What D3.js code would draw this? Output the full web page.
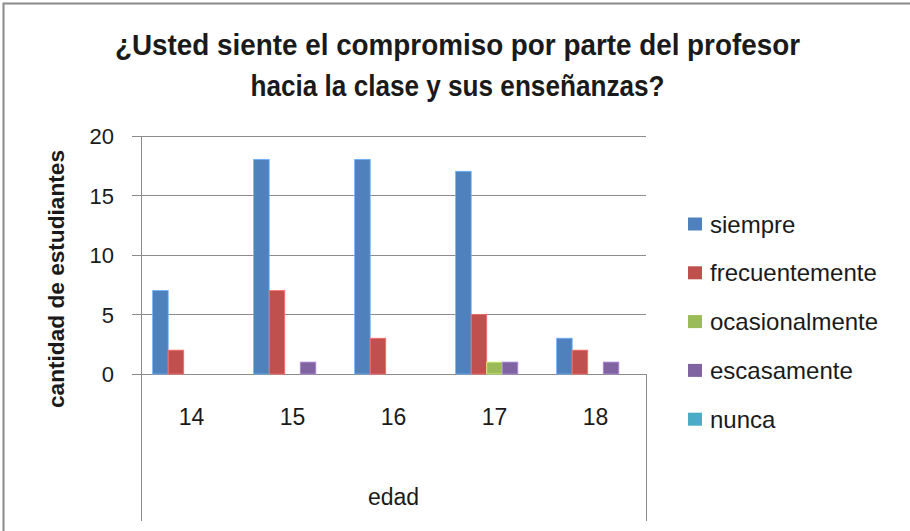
<!DOCTYPE html>
<html>
<head>
<meta charset="utf-8">
<script src="https://cdn.jsdelivr.net/npm/d3@7"></script>
<style>
  body { margin: 0; background: #fff; }
  text { font-family: "Liberation Sans", Arial, sans-serif; fill: #1a1a1a; }
</style>
</head>
<body>
<div id="wrapper"></div>
<script>
// data
const edades = ["14", "15", "16", "17", "18"]
const series = ["siempre", "frecuentemente", "ocasionalmente", "escasamente", "nunca"]
const colores = ["#4F81BD", "#C0504D", "#9BBB59", "#8064A2", "#4BACC6"]
const siempre = [7, 18, 18, 17, 3]
const frecuentemente = [2, 7, 3, 5, 2]
const ocasionalmente = [0, 0, 0, 1, 0]
const escasamente = [0, 1, 0, 1, 1]
const nunca = [0, 0, 0, 0, 0]
const yTicks = [0, 5, 10, 15, 20]
const titulo = ["¿Usted siente el compromiso por parte del profesor", "hacia la clase y sus enseñanzas?"]

const valores = [siempre, frecuentemente, ocasionalmente, escasamente, nunca]

// dimensions
const dimensions = {
    width: 910, height: 531,
    plot: {left: 141, right: 646, top: 135.5, bottom: 374},
    axisBottomEnd: 521
}

const svg = d3.select("#wrapper").append("svg")
    .attr("width", dimensions.width)
    .attr("height", dimensions.height)

// outer frame (left + top only visible)
svg.append("path")
    .attr("d", "M3.5,531 V3.5 H910")
    .attr("fill", "none").attr("stroke", "#8a8a8a").attr("stroke-width", 2)

// title
svg.append("g").selectAll("text").data(titulo).join("text")
    .attr("x", 457.5)
    .attr("y", (d, i) => 55 + i * 41)
    .attr("text-anchor", "middle")
    .attr("font-size", 29).attr("font-weight", "bold")
    .attr("textLength", (d, i) => i === 0 ? 685 : 414)
    .attr("lengthAdjust", "spacingAndGlyphs")
    .text(d => d)

// scales
const yScale = d3.scaleLinear().domain([0, 20])
    .range([dimensions.plot.bottom, dimensions.plot.top])

const xScale = d3.scaleBand().domain(edades)
    .range([dimensions.plot.left, dimensions.plot.right])
    .paddingInner(0).paddingOuter(0)

const subScale = d3.scaleBand().domain(series)
    .range([0, xScale.bandwidth()])
    .paddingInner(0).paddingOuter(0.75)

// gridlines
const grid = svg.append("g")
    .attr("transform", `translate(132,0)`)
    .call(d3.axisRight(yScale).tickValues(yTicks)
        .tickSize(dimensions.plot.right - 132).tickFormat(""))
grid.select(".domain").remove()
grid.selectAll("line").attr("stroke", "#8c8c8c").attr("shape-rendering", "crispEdges")

// y labels
const yAxis = svg.append("g")
    .attr("transform", `translate(114,0)`)
    .call(d3.axisLeft(yScale).tickValues(yTicks).tickSize(0).tickPadding(0))
yAxis.select(".domain").remove()
yAxis.selectAll("text")
    .attr("font-size", 22).attr("font-family", "Liberation Sans, Arial, sans-serif")
    .attr("fill", "#1a1a1a").attr("dy", "0.36em")

// axis lines (left axis + box under the plot)
svg.append("path")
    .attr("d", `M${dimensions.plot.left},${dimensions.plot.top} V${dimensions.axisBottomEnd}
                M${dimensions.plot.right},${yScale(0)} V${dimensions.axisBottomEnd}`)
    .attr("fill", "none").attr("stroke", "#8c8c8c").attr("shape-rendering", "crispEdges")

// bars
const groups = svg.append("g").selectAll("g").data(edades).join("g")
    .attr("transform", d => `translate(${xScale(d)},0)`)

groups.selectAll("rect")
    .data((d, i) => series.map((s, j) => ({serie: s, valor: valores[j][i], color: colores[j]})))
    .join("rect")
    .filter(d => d.valor > 0)
    .attr("x", d => subScale(d.serie))
    .attr("width", subScale.bandwidth())
    .attr("y", d => yScale(d.valor))
    .attr("height", d => yScale(0) - yScale(d.valor))
    .attr("fill", d => d.color)
    .attr("stroke", d => d3.color(d.color).brighter(0.9))
    .attr("stroke-width", 0.8)

// category labels
svg.append("g").selectAll("text").data(edades).join("text")
    .attr("x", d => xScale(d) + xScale.bandwidth() / 2)
    .attr("y", 425)
    .attr("text-anchor", "middle")
    .attr("font-size", 23)
    .text(d => d)

// axis titles
svg.append("text")
    .attr("x", (dimensions.plot.left + dimensions.plot.right) / 2)
    .attr("y", 505)
    .attr("text-anchor", "middle")
    .attr("font-size", 23)
    .text("edad")

svg.append("text")
    .attr("transform", "translate(64,279) rotate(-90)")
    .attr("text-anchor", "middle")
    .attr("font-size", 22).attr("font-weight", "bold")
    .attr("textLength", 258).attr("lengthAdjust", "spacingAndGlyphs")
    .text("cantidad de estudiantes")

// legend
const legend = svg.append("g").selectAll("g").data(series).join("g")
    .attr("transform", (d, i) => `translate(688,${224 + i * 48.8})`)
legend.append("rect")
    .attr("x", 0).attr("y", -6.5).attr("width", 14).attr("height", 13)
    .attr("fill", (d, i) => colores[i])
legend.append("text")
    .attr("x", 22).attr("y", 8.5)
    .attr("font-size", 24)
    .text(d => d)
</script>
</body>
</html>
